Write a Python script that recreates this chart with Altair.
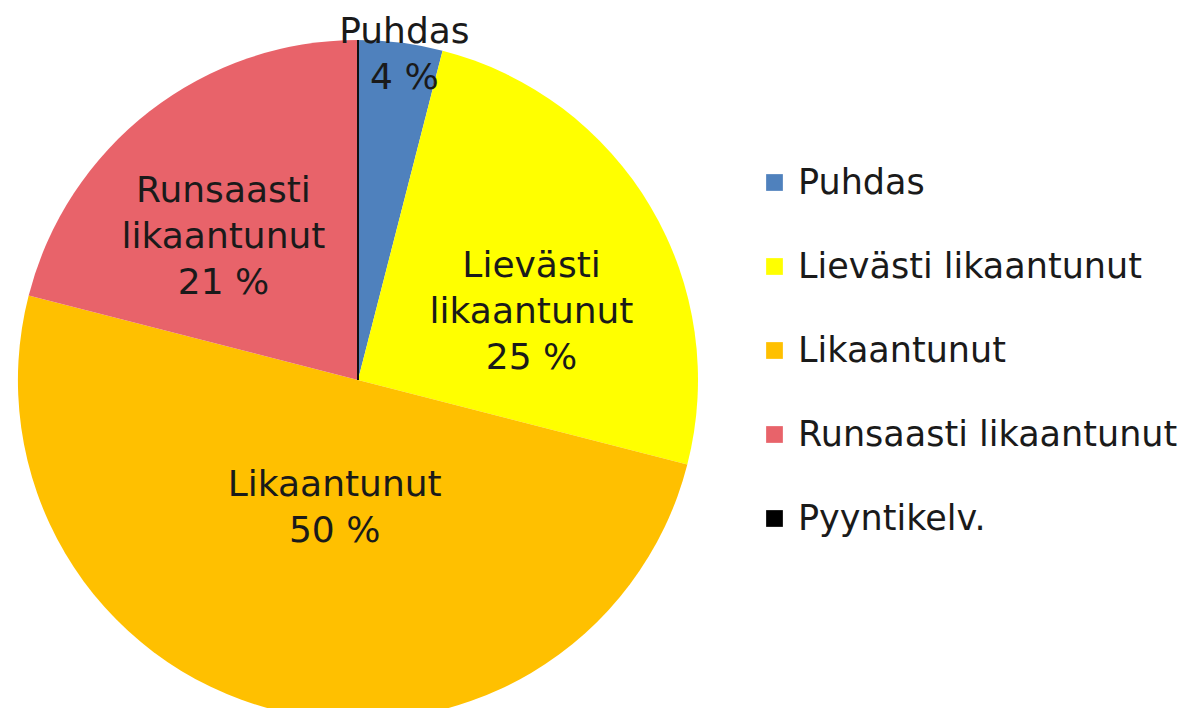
import altair as alt
import pandas as pd

categories = ["Puhdas", "Lievästi likaantunut", "Likaantunut", "Runsaasti likaantunut", "Pyyntikelv."]
shares = [4, 25, 50, 21, 0]
colors = ["#4F81BD", "#FFFF00", "#FFC000", "#E8636A", "#000000"]
slice_labels = ["Puhdas\n4 %", "Lievästi\nlikaantunut\n25 %", "Likaantunut\n50 %",
                "Runsaasti\nlikaantunut\n21 %", ""]

df = pd.DataFrame({"cat": categories, "share": shares, "label": slice_labels,
                   "idx": list(range(len(categories)))})

FONT = "DejaVu Sans"
CX, CY = 350, 372

base = alt.Chart(df).encode(
    theta=alt.Theta("share:Q", stack=True),
    order=alt.Order("idx:Q"),
)

pie = base.mark_arc(outerRadius=340, stroke="#111111").encode(
    color=alt.Color(
        "cat:N",
        scale=alt.Scale(domain=categories, range=colors),
        sort=categories,
        legend=alt.Legend(
            title=None, orient="none", legendX=749, legendY=157,
            symbolType="square", symbolSize=280, symbolStrokeWidth=0,
            labelFont=FONT, labelFontSize=35, labelColor="#1a1a1a",
            rowPadding=48, labelOffset=6, padding=0, labelLimit=500,
        ),
    ),
    strokeWidth=alt.condition("datum.cat == 'Pyyntikelv.'", alt.value(2), alt.value(0)),
    x=alt.value(CX), y=alt.value(CY),
)

placements = {
    "Puhdas": (330, 5, -21),
    "Lievästi likaantunut": (190, 10, -17),
    "Likaantunut": (130, 9, -21),
    "Runsaasti likaantunut": (195, -15, -35),
}

layers = [pie]
for cat, (r, dx, dy) in placements.items():
    layers.append(
        base.transform_calculate(
            txt=f"datum.cat == '{cat}' ? datum.label : ''"
        ).mark_text(
            radius=r, dx=dx, dy=dy, font=FONT, fontSize=36, lineHeight=46,
            lineBreak="\n", align="center", baseline="middle", color="#1a1a1a",
        ).encode(text="txt:N", x=alt.value(CX), y=alt.value(CY))
    )

chart = alt.layer(*layers).properties(
    width=1180, height=700, autosize=alt.AutoSizeParams(type="none"), padding=0,
).configure_view(stroke=None)

chart.save("out.html", embed_options={"renderer": "svg", "actions": False})
